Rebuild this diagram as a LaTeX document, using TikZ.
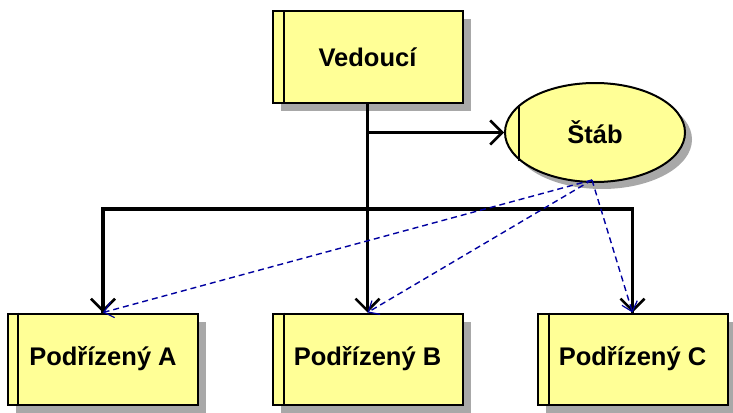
\documentclass[tikz,border=0pt]{standalone}
\usepackage{fontspec}
\setmainfont{Liberation Sans}
\usetikzlibrary{arrows.meta,shadows,shapes.geometric}
\definecolor{boxfill}{RGB}{255,255,150}
\definecolor{shadowgray}{RGB}{168,168,168}
\definecolor{dashblue}{RGB}{0,0,160}
\tikzset{
  unit/.style={draw=black, line width=2pt, fill=boxfill, minimum width=190pt, minimum height=91pt,
    inner sep=0pt, font=\fontsize{25.5}{30}\selectfont\bfseries,
    drop shadow={shadow xshift=8pt, shadow yshift=-8pt, fill=shadowgray, opacity=1}},
  staff/.style={ellipse, draw=black, line width=2pt, fill=boxfill, minimum width=180pt, minimum height=99pt,
    inner sep=0pt, font=\fontsize{25.5}{30}\selectfont\bfseries,
    drop shadow={shadow xshift=7pt, shadow yshift=-7pt, fill=shadowgray, opacity=1}},
  conn/.style={line width=3.2pt, -{Straight Barb[length=12pt,width=24pt,line width=2.5pt]}},
  bus/.style={line width=3.2pt},
  advise/.style={draw=dashblue, line width=1.4pt, dash pattern=on 6pt off 4pt,
    -{Straight Barb[length=9pt,width=16pt,line width=1.2pt]}},
  inner/.style={line width=2pt}
}
\begin{document}
\begin{tikzpicture}[x=1pt,y=-1pt]
\useasboundingbox (0,0) rectangle (733,412);
\node[unit] (V) at (367.5,57) {Vedoucí};
\node[staff] (S) at (595,132.5) {Štáb};
\node[unit] (A) at (103,359) {Podřízený A};
\node[unit] (B) at (367.5,359) {Podřízený B};
\node[unit] (C) at (632.5,359) {Podřízený C};
% inner bars
\draw[inner] ([xshift=12pt]V.north west) -- ([xshift=12pt]V.south west);
\draw[inner] ([xshift=11pt]A.north west) -- ([xshift=11pt]A.south west);
\draw[inner] ([xshift=12pt]B.north west) -- ([xshift=12pt]B.south west);
\draw[inner] ([xshift=12pt]C.north west) -- ([xshift=12pt]C.south west);
\coordinate (Sbar) at ([xshift=15pt]S.west);
\draw[inner] (S.center -| Sbar) ++(0,-28) -- ++(0,56);
% connectors
\coordinate (bus) at (367.5,209);
\draw[conn] (V.south) -- (B.north);
\draw[conn] (V.south |- S.west) -- (S.west);
\draw[bus] (bus) -| (A.north);
\draw[bus] (bus) -| (C.north);
\draw[conn] (A.north |- bus) -- (A.north);
\draw[conn] (C.north |- bus) -- (C.north);
% advisory lines
\coordinate (Sb) at ([xshift=-3pt,yshift=3pt]S.south);
\draw[advise] (Sb) -- (A.north);
\draw[advise] (Sb) -- (B.north);
\draw[advise] (Sb) -- (C.north);
\end{tikzpicture}
\end{document}
